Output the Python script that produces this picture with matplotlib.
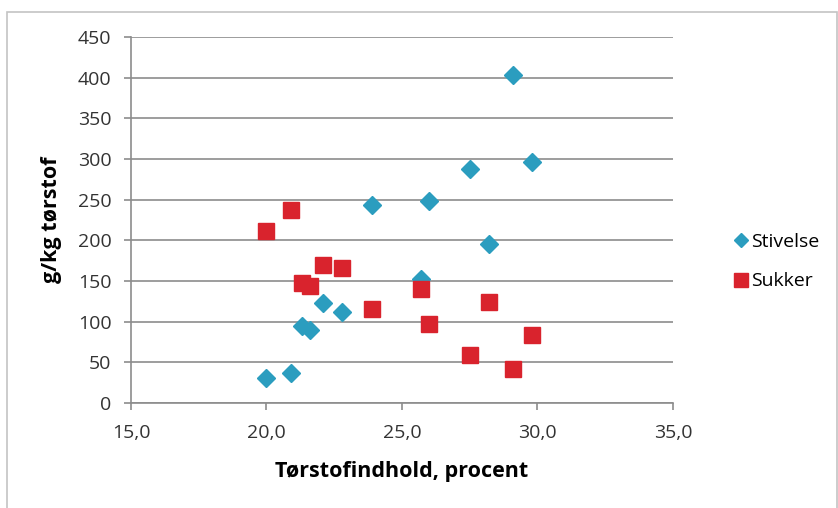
import numpy as np
import matplotlib
matplotlib.use("Agg")
import matplotlib.pyplot as plt
import matplotlib.ticker as mticker
from matplotlib.patches import Rectangle

# Data
torstof = [20.0, 20.9, 21.3, 21.6, 22.1, 22.8, 23.9, 25.7, 26.0, 27.5, 28.2, 29.1, 29.8]
stivelse = [31, 37, 95, 90, 123, 112, 243, 152, 249, 288, 195, 403, 296]
sukker = [212, 237, 147, 144, 170, 166, 116, 140, 97, 59, 124, 42, 84]

x_ticks = [15, 20, 25, 30, 35]
y_ticks = [0, 50, 100, 150, 200, 250, 300, 350, 400, 450]

plt.rcParams['font.family'] = ['Open Sans', 'DejaVu Sans']

fig = plt.figure(figsize=(8.38, 5.08), dpi=100)
ax = fig.add_axes([0.1563, 0.2067, 0.6468, 0.7203])

ax.plot(torstof, stivelse, linestyle='none', marker='D', markersize=9.5,
        color='#2B9DBF', label='Stivelse', zorder=3)
ax.plot(torstof, sukker, linestyle='none', marker='s', markersize=12,
        color='#D9232D', label='Sukker', zorder=3)

ax.set_xlim(15, 35)
ax.set_ylim(0, 450)
ax.set_xticks(x_ticks)
ax.set_yticks(y_ticks)
ax.xaxis.set_major_formatter(mticker.FuncFormatter(lambda v, p: f'{v:.1f}'.replace('.', ',')))
ax.grid(axis='y', color='#8c8c8c', linewidth=1.2)
ax.set_axisbelow(True)

for side in ['top', 'right']:
    ax.spines[side].set_visible(False)
for side in ['left', 'bottom']:
    ax.spines[side].set_color('#8c8c8c')
    ax.spines[side].set_linewidth(1.2)
ax.tick_params(axis='both', colors='#8c8c8c', labelcolor='#333333', labelsize=14,
               length=5, width=1.2)
ax.tick_params(axis='x', pad=10)
ax.tick_params(axis='y', pad=9)

ax.set_xlabel('Tørstofindhold, procent', fontsize=15.5, fontweight='bold', va='top')
ax.set_ylabel('g/kg tørstof', fontsize=15.5, fontweight='bold')
ax.xaxis.set_label_coords(0.5, -0.158)
ax.yaxis.set_label_coords(-0.128, 0.5)

ax.legend(loc='center left', bbox_to_anchor=(0.865, 0.485), bbox_transform=fig.transFigure,
          frameon=False, fontsize=14, handletextpad=0.05, handlelength=0.9,
          labelspacing=1.1, borderaxespad=0, markerscale=0.8)

# thin frame around chart area
fig.patches.append(Rectangle((0.0084, -0.02), 0.99, 0.996, transform=fig.transFigure,
                             fill=False, edgecolor='#c4c4c4', linewidth=1.2))

fig.savefig('out.png', dpi=100)
